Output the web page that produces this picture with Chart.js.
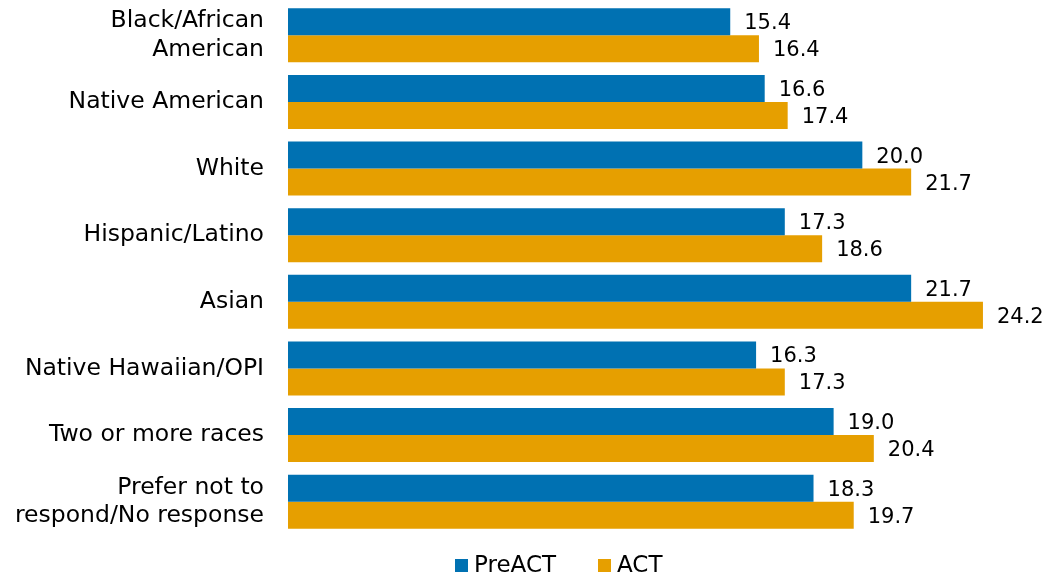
<!DOCTYPE html>
<html>
<head>
<meta charset="utf-8">
<script src="https://cdn.jsdelivr.net/npm/chart.js@4/dist/chart.umd.min.js"></script>
<style>
html,body{margin:0;padding:0;background:#fff;}
#wrap{width:1051px;height:575px;}
</style>
</head>
<body>
<div id="wrap"><canvas id="c" width="1051" height="575"></canvas></div>
<script>
const categories = [
  ["Black/African", "American"],
  "Native American",
  "White",
  "Hispanic/Latino",
  "Asian",
  "Native Hawaiian/OPI",
  "Two or more races",
  ["Prefer not to", "respond/No response"]
];
const preACT = [15.4, 16.6, 20.0, 17.3, 21.7, 16.3, 19.0, 18.3];
const act = [16.4, 17.4, 21.7, 18.6, 24.2, 17.3, 20.4, 19.7];
const seriesNames = ["PreACT", "ACT"];

const FONT = "'DejaVu Sans', sans-serif";

const labelPlugin = {
  id: 'valLabels',
  afterDatasetsDraw(chart) {
    const ctx = chart.ctx;
    ctx.save();
    ctx.font = "21px " + FONT;
    ctx.fillStyle = "#000";
    ctx.textAlign = "left";
    ctx.textBaseline = "middle";
    chart.data.datasets.forEach((ds, i) => {
      const meta = chart.getDatasetMeta(i);
      meta.data.forEach((bar, j) => {
        ctx.fillText(ds.data[j].toFixed(1), bar.x + 14, bar.y + 2);
      });
    });
    ctx.restore();
  }
};

const legendPlugin = {
  id: 'customLegend',
  afterDraw(chart) {
    const ctx = chart.ctx;
    ctx.save();
    ctx.font = "23px " + FONT;
    ctx.textBaseline = "middle";
    ctx.textAlign = "left";
    let x = 455;
    const yc = 565.5;
    chart.data.datasets.forEach(ds => {
      ctx.fillStyle = ds.backgroundColor;
      ctx.fillRect(x, yc - 6.5, 13, 13);
      ctx.fillStyle = "#000";
      ctx.fillText(ds.label, x + 19, yc + 1);
      x += 19 + ctx.measureText(ds.label).width + 42;
    });
    ctx.restore();
  }
};

new Chart(document.getElementById('c'), {
  type: 'bar',
  data: {
    labels: categories,
    datasets: [
      { label: seriesNames[0], data: preACT, backgroundColor: '#0071B2' },
      { label: seriesNames[1], data: act, backgroundColor: '#E69F00' }
    ]
  },
  options: {
    indexAxis: 'y',
    responsive: false,
    animation: false,
    devicePixelRatio: 1,
    layout: { padding: { top: 2, right: 2, left: 0, bottom: 40 } },
    datasets: { bar: { barPercentage: 1, categoryPercentage: 0.81 } },
    scales: {
      x: {
        min: 0, max: 26.5,
        display: false,
        grid: { display: false }
      },
      y: {
        grid: { display: false, drawTicks: false },
        border: { display: false },
        ticks: {
          color: '#000',
          font: { family: FONT, size: 23.5, lineHeight: 1.2 },
          padding: 24
        },
        afterFit(scale) { scale.width = 288; scale.paddingTop = 0; scale.paddingBottom = 0; }
      }
    },
    plugins: {
      legend: { display: false },
      tooltip: { enabled: false }
    }
  },
  plugins: [labelPlugin, legendPlugin]
});
</script>
</body>
</html>
